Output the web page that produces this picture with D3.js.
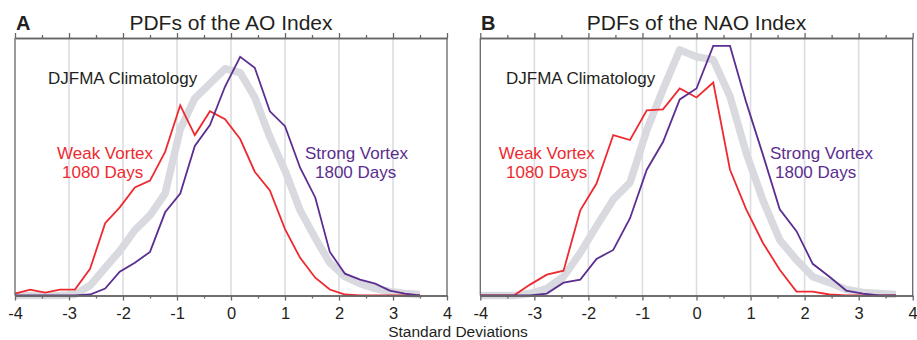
<!DOCTYPE html>
<html>
<head>
<meta charset="utf-8">
<script src="https://cdn.jsdelivr.net/npm/d3@7"></script>
<style>
  body { margin: 0; background: #fff; }
  svg { display: block; font-family: "Liberation Sans", Arial, Helvetica, sans-serif; }
  .axis path, .axis line { stroke: #666; stroke-width: 1.3; }
  .axis text { font-size: 16.5px; fill: #231f20; }
</style>
</head>
<body>
<div id="chart"></div>
<script>
// bin centres (standard deviations)
const xBinsAO = [-4.00, -3.72, -3.44, -3.17, -2.89, -2.61, -2.33, -2.06, -1.78, -1.50,
                 -1.22, -0.94, -0.67, -0.39, -0.11, 0.17, 0.44, 0.72, 1.00, 1.28,
                 1.56, 1.83, 2.11, 2.39, 2.67, 2.94, 3.22, 3.50];
const xBinsNAO = [-4.00, -3.69, -3.38, -3.08, -2.77, -2.46, -2.15, -1.85, -1.54, -1.23,
                  -0.92, -0.62, -0.31, 0.00, 0.31, 0.62, 0.92, 1.23, 1.54, 1.85,
                  2.15, 2.46, 2.77, 3.08, 3.38, 3.69];

// relative frequency (arbitrary units)
const aoClim   = [0, 0, 0, 0, 0.1, 1.0, 2.8, 4.5, 6.6, 8.1, 10.3, 16.8, 19.9, 21.4, 22.9, 22.5, 20.0, 16.0, 12.6, 8.6, 5.8, 3.3, 1.9, 1.2, 0.7, 0.4, 0.2, 0.1];
const aoWeak   = [0.2, 0.6, 0.3, 0.6, 0.6, 2.7, 7.3, 8.9, 10.9, 11.6, 14.5, 19.2, 16.2, 18.6, 17.8, 15.8, 12.5, 10.6, 6.7, 3.8, 1.8, 0.6, 0.1, 0, 0, 0, 0, 0];
const aoStrong = [0, 0, 0, 0, 0, 0.1, 0.7, 2.4, 3.3, 4.4, 8.4, 10.3, 15.1, 17.2, 21.1, 24.1, 23.0, 18.6, 17.1, 12.9, 9.9, 4.4, 2.2, 1.6, 1.2, 0.5, 0.2, 0];

const naoClim   = [0, 0, 0, 0.2, 0.7, 1.9, 4.3, 7.0, 9.7, 11.4, 16.7, 20.8, 24.8, 24.1, 23.8, 20.1, 14.4, 9.6, 5.6, 3.6, 1.9, 1.3, 0.6, 0.3, 0.2, 0.1];
const naoWeak   = [0, 0, 0, 1.1, 2.1, 2.5, 8.6, 11.3, 16.2, 15.7, 18.7, 18.8, 20.9, 20.0, 21.5, 12.7, 8.7, 5.3, 2.6, 0.4, 0.4, 0.1, 0, 0, 0, 0];
const naoStrong = [0, 0, 0, 0, 0.2, 1.3, 1.6, 3.7, 4.6, 7.8, 12.7, 15.5, 19.8, 20.9, 25.2, 25.2, 19.5, 14.2, 8.7, 6.5, 3.2, 1.9, 0.5, 0.2, 0, 0];

const xTicks = [-4, -3, -2, -1, 0, 1, 2, 3, 4];
const xMinorTicks = [-3.5, -2.5, -1.5, -0.5, 0.5, 1.5, 2.5, 3.5];
const gridTicks = [-3, -2, -1, 0, 1, 2, 3];

const panelLetters = ["A", "B"];
const panelTitles = ["PDFs of the AO Index", "PDFs of the NAO Index"];
const climLabel = "DJFMA Climatology";
const weakLabel = ["Weak Vortex", "1080 Days"];
const strongLabel = ["Strong Vortex", "1800 Days"];
const xAxisTitle = "Standard Deviations";

const colors = { clim: "#d9dadf", weak: "#ee2a30", strong: "#5b2e90", text: "#231f20" };

const W = 917, H = 340;
const svg = d3.select("#chart").append("svg").attr("width", W).attr("height", H);

const plotTop = 38, plotBottom = 295.5;
const yScale = d3.scaleLinear().domain([0, 26]).range([plotBottom, plotTop]);

const panels = [
  { left: 15, right: 447, bins: xBinsAO, clim: aoClim, weak: aoWeak, strong: aoStrong,
    letterX: 16, climX: 48, weakX: [57, 62], strongX: [305, 315] },
  { left: 480.3, right: 912.7, bins: xBinsNAO, clim: naoClim, weak: naoWeak, strong: naoStrong,
    letterX: 481, climX: 506, weakX: [498.7, 506], strongX: [770, 775] }
];

panels.forEach((p, k) => {
  const x = d3.scaleLinear().domain([-4, 4]).range([p.left, p.right]);
  const g = svg.append("g");

  // vertical grid
  g.selectAll(".grid").data(gridTicks).enter().append("line")
    .attr("x1", d => x(d)).attr("x2", d => x(d))
    .attr("y1", plotTop).attr("y2", plotBottom)
    .attr("stroke", "#dcdde2").attr("stroke-width", 1.6);

  const line = d3.line().x((d, i) => x(p.bins[i])).y(d => yScale(d));

  g.append("path").datum(p.clim).attr("d", line)
    .attr("fill", "none").attr("stroke", colors.clim).attr("stroke-width", 7.5)
    .attr("stroke-linejoin", "round");
  g.append("path").datum(p.weak).attr("d", line)
    .attr("fill", "none").attr("stroke", colors.weak).attr("stroke-width", 1.8);
  g.append("path").datum(p.strong).attr("d", line)
    .attr("fill", "none").attr("stroke", colors.strong).attr("stroke-width", 1.8);

  // frame sides
  [p.left, p.right].forEach(xx => {
    g.append("line").attr("x1", xx).attr("x2", xx).attr("y1", plotTop).attr("y2", plotBottom)
      .attr("stroke", "#666").attr("stroke-width", 1.3);
  });

  // bottom axis, major + minor ticks
  g.append("g").attr("class", "axis").attr("transform", `translate(0,${plotBottom})`)
    .call(d3.axisBottom(x).tickValues(xTicks).tickSize(5).tickSizeOuter(0).tickPadding(7)
      .tickFormat(d => String(d)));
  g.append("g").attr("class", "axis").attr("transform", `translate(0,${plotBottom})`)
    .call(d3.axisBottom(x).tickValues(xMinorTicks).tickSize(3).tickSizeOuter(0).tickFormat(""));

  // top axis
  g.append("g").attr("class", "axis").attr("transform", `translate(0,${plotTop})`)
    .call(d3.axisTop(x).tickValues(xTicks).tickSize(5).tickSizeOuter(0).tickFormat(""));
  g.append("g").attr("class", "axis").attr("transform", `translate(0,${plotTop})`)
    .call(d3.axisTop(x).tickValues(xMinorTicks).tickSize(3).tickSizeOuter(0).tickFormat(""));

  // titles
  g.append("text").attr("x", p.letterX).attr("y", 29.5)
    .attr("font-size", 20).attr("font-weight", "bold").attr("fill", colors.text)
    .text(panelLetters[k]);
  g.append("text").attr("x", (p.left + p.right) / 2).attr("y", 29.5)
    .attr("text-anchor", "middle").attr("font-size", 21).attr("fill", colors.text)
    .text(panelTitles[k]);

  // annotations
  g.append("text").attr("x", p.climX).attr("y", 84)
    .attr("font-size", 17).attr("fill", colors.text).text(climLabel);
  weakLabel.forEach((t, i) => {
    g.append("text").attr("x", p.weakX[i]).attr("y", 158.5 + i * 19)
      .attr("font-size", 17).attr("fill", colors.weak).text(t);
  });
  strongLabel.forEach((t, i) => {
    g.append("text").attr("x", p.strongX[i]).attr("y", 158.5 + i * 19)
      .attr("font-size", 17).attr("fill", colors.strong).text(t);
  });
});

svg.append("text").attr("x", 458).attr("y", 336.5)
  .attr("text-anchor", "middle").attr("font-size", 15.5).attr("fill", colors.text)
  .text(xAxisTitle);
</script>
</body>
</html>
